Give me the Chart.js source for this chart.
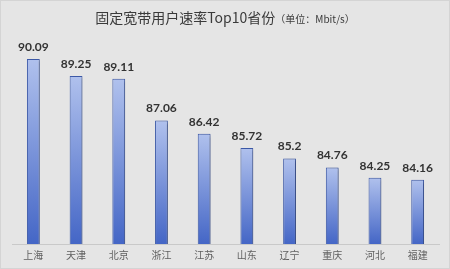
<!DOCTYPE html>
<html lang="zh">
<head>
  <meta charset="UTF-8" />
  <title>固定宽带用户速率Top10省份</title>
  <script src="https://cdn.jsdelivr.net/npm/chart.js"></script>
  <style>
    html, body {
      margin: 0;
      padding: 0;
      background: #e5e5e5;
    }
    .wrap {
      position: relative;
      width: 450px;
      height: 269px;
      box-sizing: border-box;
      border: 1px solid #d4d4d4;
    }
    .title {
      position: absolute;
      top: 6px;
      left: 0;
      width: 100%;
      text-align: center;
      font-family: 'Noto Sans CJK SC', sans-serif;
      color: #3a3a3a;
      font-size: 14px;
      line-height: 20px;
      z-index: 2;
    }
    .title small {
      font-size: 10px;
    }
    canvas {
      position: absolute;
      top: 0;
      left: 0;
    }
  </style>
</head>
<body>
  <div class="wrap">
    <div class="title">固定宽带用户速率Top10省份<small>（单位：Mbit/s）</small></div>
    <canvas id="chart" width="448" height="267"></canvas>
  </div>

  <script>
    const provinces = ['上海', '天津', '北京', '浙江', '江苏', '山东', '辽宁', '重庆', '河北', '福建'];
    const speeds = [90.09, 89.25, 89.11, 87.06, 86.42, 85.72, 85.2, 84.76, 84.25, 84.16];

    // gradient per bar, light on top, darker at the bottom
    function barFill(ctx) {
      const chart = ctx.chart;
      const area = chart.chartArea;
      if (!area || ctx.parsed === undefined) return '#5a7bd0';
      const top = chart.scales.y.getPixelForValue(ctx.parsed.y);
      const g = chart.ctx.createLinearGradient(0, top, 0, area.bottom);
      g.addColorStop(0, '#b0c1ed');
      g.addColorStop(1, '#4466c6');
      return g;
    }

    // value labels above bars
    const valueLabels = {
      id: 'valueLabels',
      afterDatasetsDraw(chart) {
        const ctx = chart.ctx;
        const meta = chart.getDatasetMeta(0);
        ctx.save();
        ctx.font = 'bold 12px Lato, sans-serif';
        ctx.fillStyle = '#333333';
        ctx.textAlign = 'center';
        ctx.textBaseline = 'middle';
        meta.data.forEach((bar, i) => {
          ctx.fillText(String(speeds[i]), bar.x, bar.y - 12);
        });
        ctx.restore();
      }
    };

    // soft shadow to the right of the bars
    const barShadow = {
      id: 'barShadow',
      beforeDatasetsDraw(chart) {
        const ctx = chart.ctx;
        ctx.save();
        ctx.shadowColor = 'rgba(0,0,0,0.28)';
        ctx.shadowBlur = 3;
        ctx.shadowOffsetX = 2;
        ctx.shadowOffsetY = 1;
      },
      afterDatasetsDraw(chart) {
        chart.ctx.restore();
      }
    };

    new Chart(document.getElementById('chart'), {
      type: 'bar',
      data: {
        labels: provinces,
        datasets: [{
          data: speeds,
          backgroundColor: barFill,
          borderColor: '#3d5aa9',
          borderWidth: 1,
          barPercentage: 0.6,
          categoryPercentage: 0.5
        }]
      },
      options: {
        responsive: false,
        animation: false,
        layout: { padding: { left: 11, right: 10, top: 19, bottom: 2 } },
        plugins: {
          legend: { display: false },
          tooltip: { enabled: false }
        },
        scales: {
          x: {
            grid: { display: false, drawTicks: false },
            border: { color: '#c9c9c9' },
            ticks: {
              color: '#5f5f5f',
              padding: 5,
              font: { family: "'Noto Sans CJK SC', sans-serif", size: 10 }
            }
          },
          y: {
            display: false,
            min: 81,
            max: 92
          }
        }
      },
      plugins: [barShadow, valueLabels]
    });
  </script>
</body>
</html>
